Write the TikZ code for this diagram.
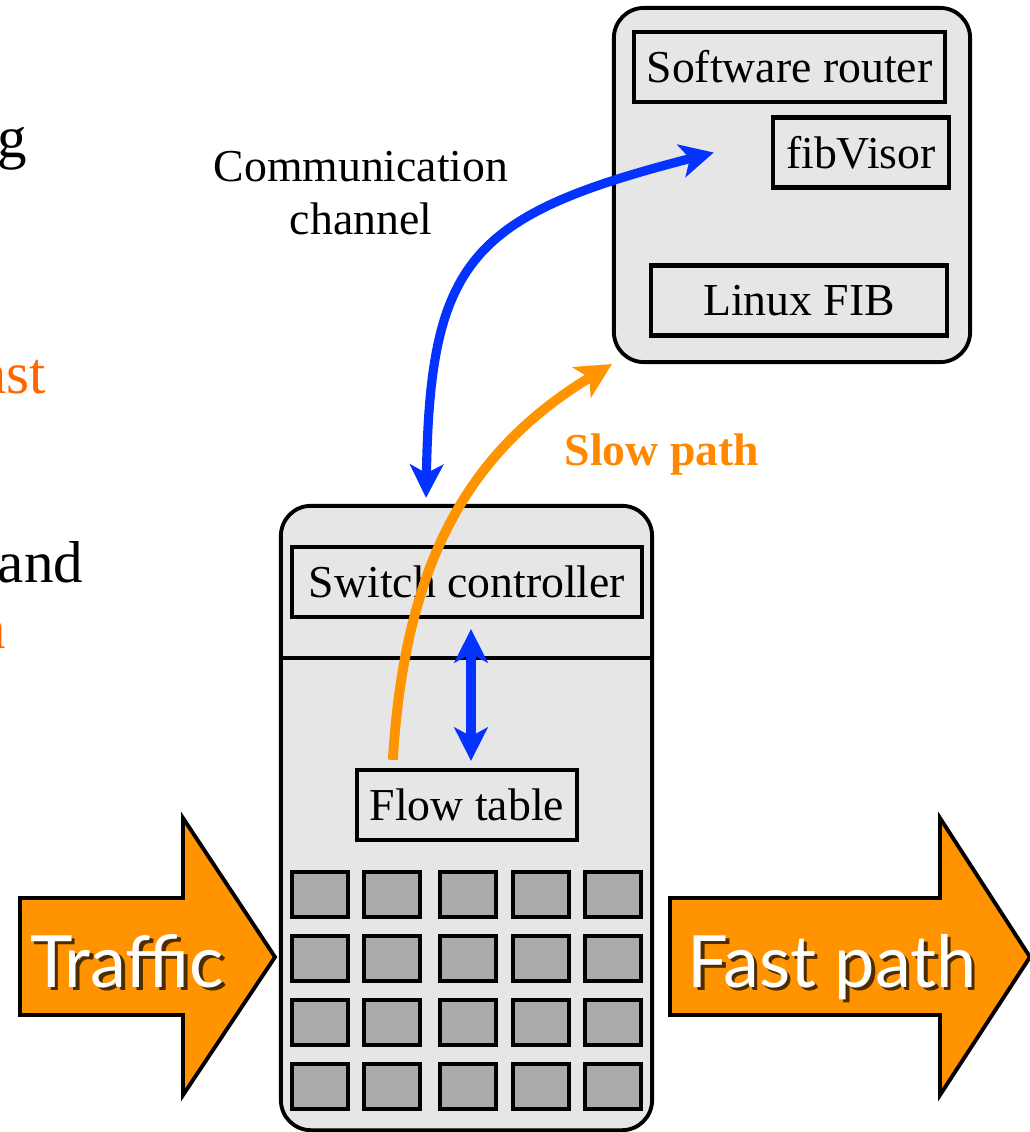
\documentclass[tikz,border=0pt]{standalone}
\usepackage{fontspec}
\setmainfont{Liberation Serif}
\newfontfamily\arrowfont{Lato}
\usetikzlibrary{arrows.meta}
\definecolor{boxgray}{RGB}{230,230,230}
\definecolor{cellgray}{RGB}{170,170,170}
\definecolor{pathorange}{RGB}{255,147,0}
\definecolor{slideorange}{RGB}{255,102,0}
\definecolor{sloworange}{RGB}{255,136,0}
\definecolor{chanblue}{RGB}{4,51,255}
\newcommand{\shadowed}[1]{\makebox[0pt][l]{\hspace{0.05em}\raisebox{-0.05em}{\color{pathorange!30!black}#1}}#1}
\tikzset{
  outerbox/.style={draw, line width=1.1pt, fill=boxgray, rounded corners=0.3cm},
  box/.style={draw, line width=1.2pt, fill=boxgray, inner sep=0pt, minimum height=0.7cm},
  cell/.style={draw, line width=1.2pt, fill=cellgray, minimum width=0.56cm, minimum height=0.45cm, inner sep=0pt},
  bigarrow/.style={draw, line width=1.1pt, fill=pathorange, line join=miter},
  arrowtext/.style={text=white, font=\arrowfont\fontsize{20.5}{24}\selectfont, anchor=base},
  slidetext/.style={font=\fontsize{16.8}{20}\selectfont, anchor=base east, inner sep=0pt},
  chan/.style={chanblue, line width=2.6pt, {Stealth[length=9.5pt,width=9.5pt,inset=2.5pt]}-{Stealth[length=9.5pt,width=9.5pt,inset=2.5pt]}},
  slow/.style={pathorange, line width=2.8pt, -{Stealth[length=10pt,width=10pt,inset=2.5pt]}},
}

\begin{document}
\begin{tikzpicture}[x=0.01cm, y=-0.01cm, font=\fontsize{13}{15.1}\selectfont]

  \useasboundingbox (0,0) rectangle (1030,1132);
  \clip (0,0) rectangle (1030,1132);

  % slide text cut off at the left
  \node [slidetext] (w1) at (28,157) {g};
  \node [slidetext, text=slideorange] (w2) at (47,393) {ast};
  \node [slidetext] (w3) at (84,582) {and};
  \node [slidetext, text=slideorange] (w4) at (7,648) {n};

  % software router:
  \node [outerbox, minimum width=3.56cm, minimum height=3.54cm] (router) at (792,185) {};
  \node [box, minimum width=3.11cm] (swrouter) at (789.5,67) {Software router};
  \node [box, minimum width=1.76cm] (fibvisor) at (861,152.5) {fibVisor};
  \node [box, minimum width=2.96cm] (linuxfib) at (799,300.5) {Linux FIB};

  % switch:
  \node [outerbox, minimum width=3.71cm, minimum height=6.24cm] (switch) at (466.5,818) {};
  \draw [line width=1.1pt] (281,658) -- (652,658);
  \node [box, minimum width=3.5cm] (swctrl) at (467,582) {Switch controller};
  \node [box, minimum width=2.2cm] (flowtab) at (467,805) {Flow table};

  \foreach \cx [count=\i] in {320,392,468,541,613}
    \foreach \cy [count=\j] in {894.5,958.5,1022.5,1086.5}
      \node [cell] (cell\i\j) at (\cx,\cy) {};

  \draw [chan] ([xshift=0.04cm,yshift=-0.1cm]swctrl.south) -- ([xshift=0.04cm,yshift=0.07cm]flowtab.north);

  % communication channel
  \node [align=center] (chanlabel) at (361,193) {Communication\\channel};
  \draw [chan] ([xshift=1.47cm,yshift=0.06cm]switch.north west) .. controls (430,260) and (470,215) .. ([xshift=-0.57cm]fibvisor.west);

  % slow path
  \draw [slow] ([xshift=0.38cm,yshift=0.08cm]flowtab.north west) .. controls (405,560) and (470,450) .. (router.south west);
  \node [text=sloworange, font=\fontsize{13}{15.1}\bfseries] (slowlabel) at (662,454) {Slow path};

  % traffic in, fast path out
  \draw [bigarrow] (20,898) -- ++(163,0) -- ++(0,-80) -- (275,957) -- (183,1095) -- ++(0,-80) -- (20,1015) -- cycle;
  \node [arrowtext] (traffic) at (127,987) {\shadowed{Traffic}};

  \draw [bigarrow] (670,898) -- ++(270,0) -- ++(0,-80) -- (1030,957) -- (940,1095) -- ++(0,-80) -- (670,1015) -- cycle;
  \node [arrowtext] (fastpath) at (832,987) {\shadowed{Fast path}};

\end{tikzpicture}
\end{document}
